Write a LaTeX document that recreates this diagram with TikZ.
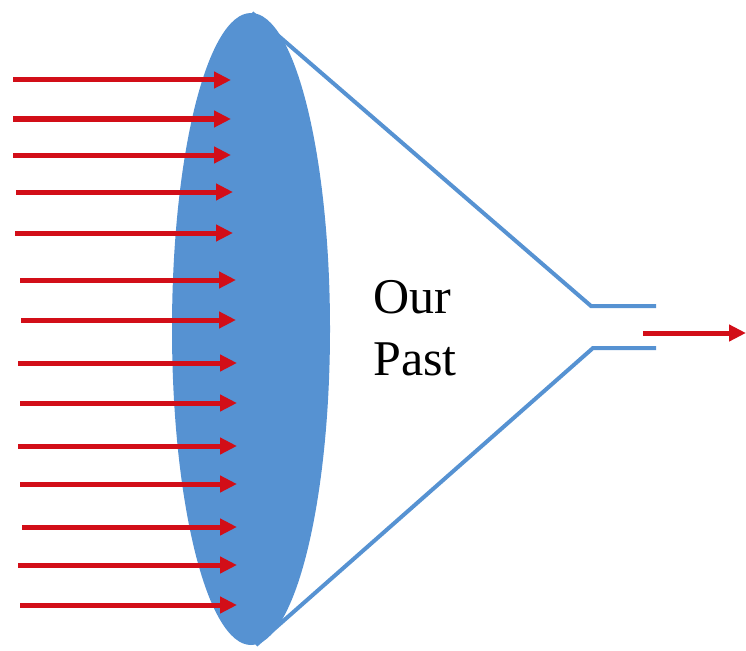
\documentclass[tikz,border=0pt]{standalone}
\usepackage{fontspec}
\setmainfont{Liberation Serif}
\usetikzlibrary{arrows.meta,shapes.geometric}
\definecolor{lensblue}{RGB}{86,146,210}
\definecolor{rayred}{RGB}{210,14,24}
\begin{document}
\begin{tikzpicture}[x=1pt,y=-1pt,
  ray/.style={draw=rayred,line width=5pt,-{Triangle[length=17pt,width=16pt]}},
  funnel/.style={draw=lensblue,line width=4pt},
  lbl/.style={font=\fontsize{50}{60}\selectfont,inner sep=0pt,anchor=base west}]
\useasboundingbox (0,0) rectangle (746,650);
% funnel lines (behind the lens)
\coordinate (top) at (252,13);
\coordinate (bot) at (256,645);
\coordinate (tk) at (591,306);
\coordinate (te) at (656,306);
\coordinate (bk) at (593,348);
\coordinate (be) at (656,348);
\draw[funnel] (top) -- (tk) -- (te);
\draw[funnel] (bot) -- (bk) -- (be);
% lens
\node[draw=none,fill=lensblue,ellipse,minimum width=158pt,minimum height=632pt,inner sep=0pt] (lens) at (251,329) {};
% incoming rays
\foreach \i/\y/\xs/\xe in {1/80/13/231,2/119/13/231,3/155/13/231,4/192/16/233,5/233/15/233,6/280/20/236,7/320/21/236,8/363/18/237,9/403/20/237,10/446/18/237,11/484/20/237,12/527/22/237,13/565/18/237,14/605/20/237}{
  \coordinate (s\i) at (\xs,\y);
  \coordinate (e\i) at (\xe,\y);
  \draw[ray] (s\i) -- (e\i);
}
% outgoing ray
\coordinate (os) at (643,333);
\coordinate (oe) at (746,333);
\draw[ray] (os) -- (oe);
% label
\node[lbl] (our) at (373,313) {Our};
\node[lbl] (past) at (373,375) {Past};
\end{tikzpicture}
\end{document}
